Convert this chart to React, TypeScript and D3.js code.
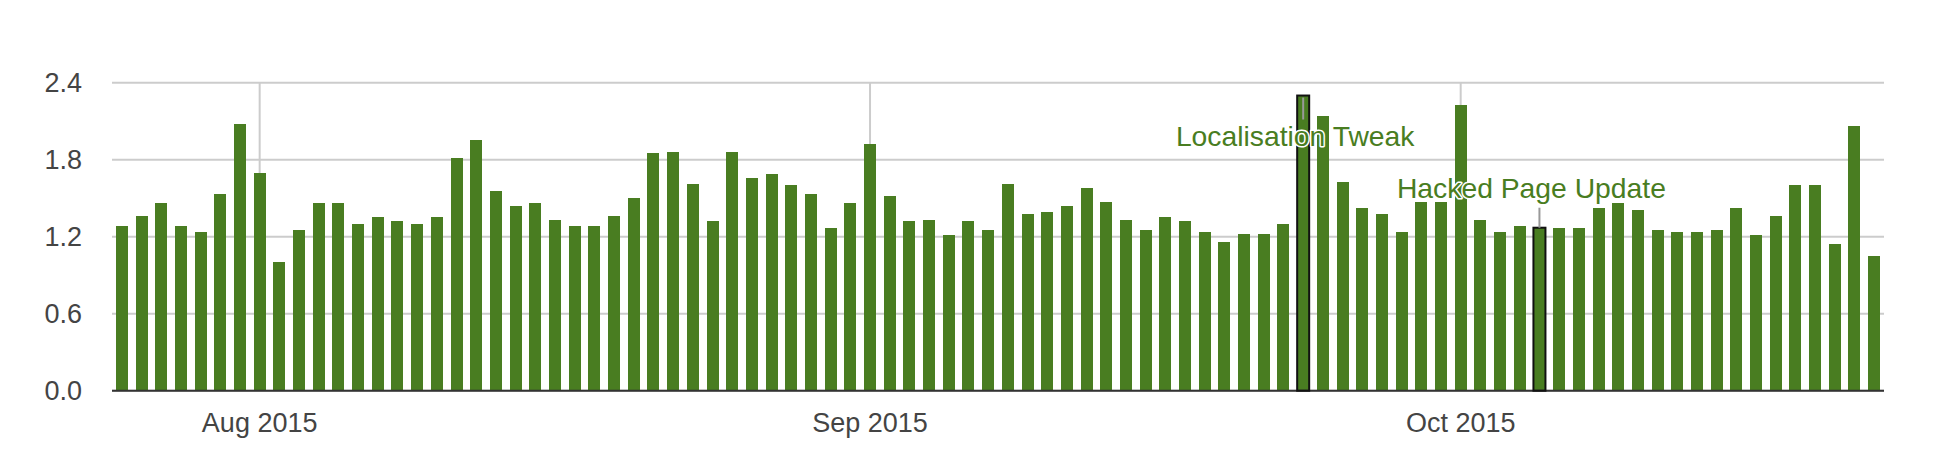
import React from "react";
import * as d3 from "d3";

// Daily values, 25 Jul 2015 – 22 Oct 2015
const values: number[] = [
  1.28, 1.36, 1.46, 1.28, 1.24, 1.53, 2.08, 1.70, 1.00, 1.25,
  1.46, 1.46, 1.30, 1.35, 1.32, 1.30, 1.35, 1.81, 1.95, 1.56,
  1.44, 1.46, 1.33, 1.28, 1.28, 1.36, 1.50, 1.85, 1.86, 1.61,
  1.32, 1.86, 1.66, 1.69, 1.60, 1.53, 1.27, 1.46, 1.92, 1.52,
  1.32, 1.33, 1.21, 1.32, 1.25, 1.61, 1.38, 1.39, 1.44, 1.58,
  1.47, 1.33, 1.25, 1.35, 1.32, 1.24, 1.16, 1.22, 1.22, 1.30,
  2.30, 2.14, 1.63, 1.42, 1.38, 1.24, 1.47, 1.47, 2.23, 1.33,
  1.24, 1.28, 1.27, 1.27, 1.27, 1.42, 1.46, 1.41, 1.25, 1.24,
  1.24, 1.25, 1.42, 1.21, 1.36, 1.60, 1.60, 1.14, 2.06, 1.05,
];

const startDate = new Date(2015, 6, 25);
const dates: Date[] = d3.timeDay.range(startDate, d3.timeDay.offset(startDate, values.length));

const yTicks: number[] = [0, 0.6, 1.2, 1.8, 2.4];
const monthTicks: Date[] = [new Date(2015, 7, 1), new Date(2015, 8, 1), new Date(2015, 9, 1)];

type Note = { date: Date; text: string; placement: "above" | "below" };
const notes: Note[] = [
  { date: new Date(2015, 8, 23), text: "Localisation Tweak", placement: "below" },
  { date: new Date(2015, 9, 5), text: "Hacked Page Update", placement: "above" },
];

const W = 1934;
const H = 454;
const left = 112;
const right = 1884;
const top = 82.7;
const bottom = 390.7;

const BAR = "#497d21";
const FONT = "'Liberation Sans', Arial, sans-serif";

export default function App() {
  const key = (d: Date) => d3.timeFormat("%Y-%m-%d")(d);
  const x = d3
    .scaleBand<string>()
    .domain(dates.map(key))
    .range([left, right])
    .paddingInner(0.39)
    .paddingOuter(0.195);
  const y = d3.scaleLinear().domain([0, 2.4]).range([bottom, top]);
  const bw = x.bandwidth();
  const cx = (d: Date) => (x(key(d)) ?? 0) + bw / 2;
  const fmtY = d3.format(".1f");
  const fmtM = d3.timeFormat("%b %Y");
  const valueAt = (d: Date) => values[dates.findIndex((t) => key(t) === key(d))];

  return (
    <svg
      width={W}
      height={H}
      style={{ position: "absolute", left: 0, top: 0, background: "#fff" }}
      fontFamily={FONT}
    >
      {/* horizontal gridlines */}
      {yTicks.map((t) => (
        <line key={t} x1={left} x2={right} y1={y(t)} y2={y(t)} stroke="#cccccc" strokeWidth={2} />
      ))}
      {/* month gridlines */}
      {monthTicks.map((m) => (
        <line key={+m} x1={cx(m)} x2={cx(m)} y1={top} y2={bottom} stroke="#cccccc" strokeWidth={2} />
      ))}
      {/* bars */}
      {dates.map((d, i) => (
        <rect
          key={i}
          x={x(key(d))}
          y={y(values[i])}
          width={bw}
          height={bottom - y(values[i])}
          fill={BAR}
          shapeRendering="crispEdges"
        />
      ))}
      {/* baseline */}
      <line x1={left} x2={right} y1={bottom} y2={bottom} stroke="#333333" strokeWidth={2} />
      {/* y labels */}
      {yTicks.map((t) => (
        <text
          key={t}
          x={82}
          y={y(t)}
          dy="0.36em"
          textAnchor="end"
          fontSize={27}
          fill="#444444"
        >
          {fmtY(t)}
        </text>
      ))}
      {/* x labels */}
      {monthTicks.map((m) => (
        <text key={+m} x={cx(m)} y={432} textAnchor="middle" fontSize={27} fill="#444444">
          {fmtM(m)}
        </text>
      ))}
      {/* annotations */}
      {notes.map((n) => {
        const v = valueAt(n.date);
        const yt = y(v);
        const bx = x(key(n.date)) ?? 0;
        const c = cx(n.date);
        const stem =
          n.placement === "above" ? [yt, yt - 20] : [yt + 2, yt + 24];
        const ty = n.placement === "above" ? yt - 30 : yt + 50;
        return (
          <g key={n.text}>
            <rect
              x={bx}
              y={yt}
              width={bw}
              height={bottom - yt}
              fill="none"
              stroke="#111111"
              strokeWidth={2}
            />
            <line x1={c} x2={c} y1={stem[0]} y2={stem[1]} stroke="#999999" strokeWidth={2} />
            <text
              x={c - 8}
              y={ty}
              textAnchor="middle"
              fontSize={28.3}
              fill={BAR}
              stroke="#ffffff"
              strokeWidth={3}
              paintOrder="stroke"
              strokeLinejoin="round"
            >
              {n.text}
            </text>
          </g>
        );
      })}
    </svg>
  );
}
